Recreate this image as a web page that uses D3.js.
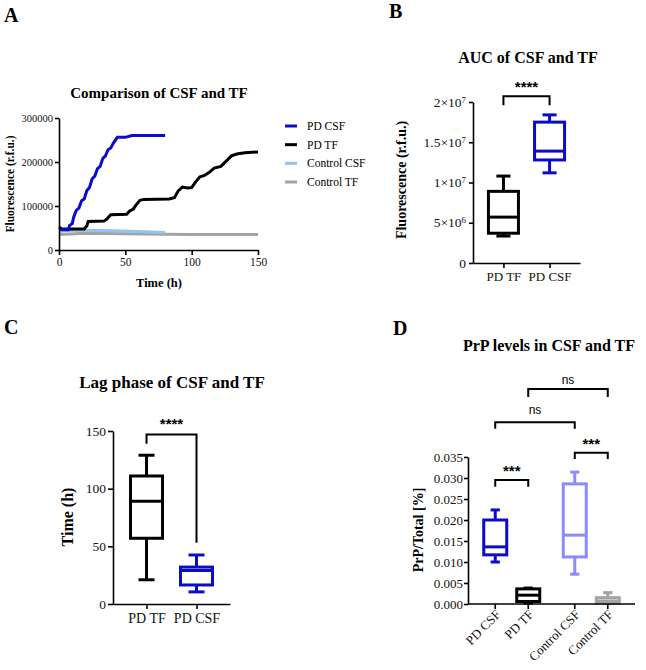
<!DOCTYPE html>
<html>
<head>
<meta charset="utf-8">
<script src="https://cdn.jsdelivr.net/npm/d3@7"></script>
<style>
  body { margin: 0; background: #fff; }
  svg { font-family: "Liberation Serif", "Times New Roman", serif; }
</style>
</head>
<body>
<div id="container"></div>
<script>
// ---- data ----
// A: fluorescence curves, [time h, r.f.u.]
let pdCsf = [[0,47000],[3,46000],[7,46000],[8,56000],[10,60000],[11,74000],[13,90000],[15,95000],[17,112000],[19,116000],[21,135000],[23,142000],[25,162000],[27,168000],[29,185000],[31,190000],[33,208000],[35,214000],[37,228000],[39,232000],[41,243000],[44,256000],[50,256000],[55,260000],[80,260000]];
let pdTf = [[0,52000],[2,48000],[19,48000],[21,55000],[22,65000],[34,66000],[36,70000],[39,80000],[51,81000],[53,88000],[56,93000],[58,102000],[61,113000],[64,115000],[83,116000],[87,119000],[90,135000],[93,143000],[97,141000],[100,142000],[103,155000],[106,166000],[110,170000],[113,176000],[117,186000],[122,190000],[126,202000],[130,214000],[134,218000],[140,221000],[150,223000]];
let controlCsf = [[0,42000],[5,44000],[20,45000],[40,44000],[60,42000],[80,40000]];
let controlTf = [[0,35000],[20,38000],[50,37000],[80,36000],[100,35000],[150,35000]];
let seriesNames = ["PD CSF", "PD TF", "Control CSF", "Control TF"];

// B: AUC box stats [min, q1, median, q3, max]
let aucCats = ["PD TF", "PD CSF"];
let aucStats = [[3.35e6, 3.7e6, 5.7e6, 8.9e6, 10.8e6], [11.2e6, 12.8e6, 13.9e6, 17.5e6, 18.4e6]];

// C: lag phase box stats
let lagCats = ["PD TF", "PD CSF"];
let lagStats = [[21, 57, 89, 111, 129], [10.5, 16.5, 29, 32, 42.5]];

// D: PrP / total box stats
let prpGroups = ["PD", "Control"];
let prpSubs = ["CSF", "TF"];
let prpStats = [
  [[0.0100, 0.0117, 0.0136, 0.0200, 0.0224], [0.0002, 0.0006, 0.0021, 0.0036, 0.0038]],
  [[0.0071, 0.0112, 0.0164, 0.0286, 0.0314], [0.0001, 0.0002, 0.0007, 0.0015, 0.0027]]
];

let w = 646, h = 670;
let svg = d3.select("#container").append("svg").attr("width", w).attr("height", h);

let blue = "#0b0bcc", lightBlue = "#8fc4f3", grey = "#a3a3a3", lavender = "#8b8bff";

function styleAxis(g, size) {
  g.selectAll("path, line").attr("stroke", "#000").attr("stroke-width", 1.6);
  g.selectAll("text").attr("font-size", size).attr("fill", "#111")
    .attr("font-family", "'Liberation Serif', serif");
}

function panelLetter(t, x, y) {
  svg.append("text").attr("x", x).attr("y", y).text(t)
    .attr("font-size", 20).attr("font-weight", "bold");
}

function title(t, x, y, size) {
  svg.append("text").attr("x", x).attr("y", y).attr("text-anchor", "middle")
    .attr("font-size", size).attr("font-weight", "bold").text(t);
}

function yLabel(t, x, y, size) {
  svg.append("text").attr("transform", "translate(" + x + "," + y + ") rotate(-90)")
    .attr("text-anchor", "middle").attr("font-size", size).attr("font-weight", "bold").text(t);
}

function drawBox(g, cx, s, y, color, bw, sw, capFrac) {
  let cap = bw * capFrac;
  g.append("line").attr("x1", cx).attr("x2", cx).attr("y1", y(s[0])).attr("y2", y(s[1]))
    .attr("stroke", color).attr("stroke-width", sw);
  g.append("line").attr("x1", cx).attr("x2", cx).attr("y1", y(s[3])).attr("y2", y(s[4]))
    .attr("stroke", color).attr("stroke-width", sw);
  [s[0], s[4]].forEach(v => {
    g.append("line").attr("x1", cx - cap / 2).attr("x2", cx + cap / 2).attr("y1", y(v)).attr("y2", y(v))
      .attr("stroke", color).attr("stroke-width", sw);
  });
  g.append("rect").attr("x", cx - bw / 2).attr("y", y(s[3])).attr("width", bw)
    .attr("height", y(s[1]) - y(s[3])).attr("fill", "#fff").attr("stroke", color).attr("stroke-width", sw);
  g.append("line").attr("x1", cx - bw / 2).attr("x2", cx + bw / 2).attr("y1", y(s[2])).attr("y2", y(s[2]))
    .attr("stroke", color).attr("stroke-width", sw);
}

function bracket(x1, x2, yTop, yL, yR, label, labelY, font, size, weight) {
  svg.append("path").attr("d", "M" + x1 + "," + yL + "V" + yTop + "H" + x2 + "V" + yR)
    .attr("fill", "none").attr("stroke", "#000").attr("stroke-width", 2);
  svg.append("text").attr("x", (x1 + x2) / 2).attr("y", labelY).attr("text-anchor", "middle")
    .attr("fill", "#000").attr("font-family", font).attr("font-size", size).attr("font-weight", weight).text(label);
}

// ================= A =================
panelLetter("A", 4, 22);
title("Comparison of CSF and TF", 159, 98, 15);

let xA = d3.scaleLinear().domain([0, 150]).range([59, 258]);
let yA = d3.scaleLinear().domain([0, 300000]).range([250, 118]);
let lineA = d3.line().x(d => xA(d[0])).y(d => yA(d[1]));
let seriesA = [pdCsf, pdTf, controlCsf, controlTf];
let colorsA = [blue, "#000", lightBlue, grey];

[3, 2, 1, 0].forEach(i => {
  svg.append("path").attr("d", lineA(seriesA[i])).attr("fill", "none")
    .attr("stroke", colorsA[i]).attr("stroke-width", 3);
});

let axA = svg.append("g").attr("transform", "translate(0,250)")
  .call(d3.axisBottom(xA).tickValues([0, 50, 100, 150]).tickSize(5).tickSizeOuter(0));
styleAxis(axA, 11.5);
let ayA = svg.append("g").attr("transform", "translate(59,0)")
  .call(d3.axisLeft(yA).tickValues([0, 100000, 200000, 300000]).tickFormat(d3.format("d")).tickSize(4).tickPadding(2).tickSizeOuter(0));
styleAxis(ayA, 10.5);
svg.append("text").attr("x", 159).attr("y", 287).attr("text-anchor", "middle")
  .attr("font-size", 12.5).attr("font-weight", "bold").text("Time (h)");
yLabel("Fluorescence (r.f.u.)", 14, 184, 11.5);

let legY = d3.scalePoint().domain(seriesNames).range([126, 182]);
seriesNames.forEach((n, i) => {
  svg.append("line").attr("x1", 285).attr("x2", 297).attr("y1", legY(n)).attr("y2", legY(n))
    .attr("stroke", colorsA[i]).attr("stroke-width", 3);
  svg.append("text").attr("x", 307).attr("y", legY(n)).attr("dy", "0.35em")
    .attr("font-size", 11.5).text(n);
});

// ================= B =================
panelLetter("B", 389, 18);
title("AUC of CSF and TF", 528, 63, 16);

let xB = d3.scalePoint().domain(aucCats).range([473, 580]).padding(0.66);
let yB = d3.scaleLinear().domain([0, 2e7]).range([263, 102]);
let gB = svg.append("g");
let colorsB = ["#000", blue];
aucCats.forEach((c, i) => drawBox(gB, xB(c), aucStats[i], yB, colorsB[i], 30, 3, 0.47));

let axB = svg.append("g").attr("transform", "translate(0,263)")
  .call(d3.axisBottom(xB).tickSize(5).tickSizeOuter(0).tickPadding(4));
styleAxis(axB, 13);
let ayB = svg.append("g").attr("transform", "translate(473,0)")
  .call(d3.axisLeft(yB).tickValues([0, 5e6, 1e7, 1.5e7, 2e7]).tickFormat("").tickSize(4).tickSizeOuter(0));
styleAxis(ayB, 12);
// tick labels with exponents
let bLabels = [["0", ""], ["5×10", "6"], ["1×10", "7"], ["1.5×10", "7"], ["2×10", "7"]];
[0, 5e6, 1e7, 1.5e7, 2e7].forEach((v, i) => {
  let t = svg.append("text").attr("x", 466).attr("y", yB(v)).attr("dy", "0.35em")
    .attr("text-anchor", "end").attr("font-size", 13.5).attr("fill", "#111");
  t.append("tspan").text(bLabels[i][0]);
  if (bLabels[i][1]) t.append("tspan").attr("dy", "-0.45em").attr("font-size", 9).text(bLabels[i][1]);
});
yLabel("Fluorescence (r.f.u.)", 406, 180, 14);
bracket(xB("PD TF"), xB("PD CSF"), yB(2.07e7), yB(1.96e7), yB(1.96e7), "****", 92,
  "'Liberation Sans', Arial, sans-serif", 15, "bold");

// ================= C =================
panelLetter("C", 4, 334);
title("Lag phase of CSF and TF", 172, 388, 17);

let xC = d3.scalePoint().domain(lagCats).range([113, 230]).padding(0.67);
let yC = d3.scaleLinear().domain([0, 150]).range([604, 431]);
let gC = svg.append("g");
lagCats.forEach((c, i) => drawBox(gC, xC(c), lagStats[i], yC, colorsB[i], 32, 3, 0.5));

let axC = svg.append("g").attr("transform", "translate(0,604)")
  .call(d3.axisBottom(xC).tickSize(5).tickSizeOuter(0).tickPadding(4));
styleAxis(axC, 14);
let ayC = svg.append("g").attr("transform", "translate(113,0)")
  .call(d3.axisLeft(yC).tickValues([0, 50, 100, 150]).tickSize(5).tickPadding(2).tickSizeOuter(0));
styleAxis(ayC, 13.5);
yLabel("Time (h)", 73, 517, 16);
bracket(xC("PD TF"), xC("PD CSF"), yC(147), yC(139), yC(53), "****", 429,
  "'Liberation Sans', Arial, sans-serif", 15, "bold");

// ================= D =================
panelLetter("D", 393, 335);
title("PrP levels in CSF and TF", 549, 351, 16);

let xGroup = d3.scalePoint().domain(prpGroups).range([468, 635]).padding(0.55);
let xSub = d3.scalePoint().domain(prpSubs).range([-16.5, 16.5]);
let yD = d3.scaleLinear().domain([0, 0.035]).range([604, 457]);
let gD = svg.append("g");
let colorsD = [[blue, "#000"], [lavender, grey]];
prpGroups.forEach((g, gi) => {
  prpSubs.forEach((s, si) => {
    drawBox(gD, xGroup(g) + xSub(s), prpStats[gi][si], yD, colorsD[gi][si], 23, 3, 0.4);
  });
});

let ayD = svg.append("g").attr("transform", "translate(468,0)")
  .call(d3.axisLeft(yD).tickValues(d3.range(0, 0.0351, 0.005)).tickFormat(d3.format(".3f")).tickSize(4).tickPadding(1).tickSizeOuter(0));
styleAxis(ayD, 13);
svg.append("line").attr("x1", 468).attr("x2", 635).attr("y1", 604).attr("y2", 604)
  .attr("stroke", "#000").attr("stroke-width", 1.6);
prpGroups.forEach(g => {
  prpSubs.forEach(s => {
    let x = xGroup(g) + xSub(s);
    svg.append("line").attr("x1", x).attr("x2", x).attr("y1", 604).attr("y2", 609)
      .attr("stroke", "#000").attr("stroke-width", 1.6);
    svg.append("text").attr("transform", "translate(" + (x + 3) + ",612) rotate(-45)")
      .attr("text-anchor", "end").attr("dy", "0.35em").attr("font-size", 13).attr("fill", "#111")
      .text(g + " " + s);
  });
});
yLabel("PrP/Total [%]", 423, 530, 14);

let xd = (g, s) => xGroup(g) + xSub(s);
let sans = "'Liberation Sans', Arial, sans-serif";
bracket(xd("PD", "CSF"), xd("PD", "TF"), yD(0.0295), yD(0.0279), yD(0.0279), "***", 476, sans, 15, "bold");
bracket(xd("Control", "CSF"), xd("Control", "TF"), yD(0.0360), yD(0.0345), yD(0.0345), "***", 449, sans, 15, "bold");
bracket(xd("PD", "CSF"), xd("Control", "CSF"), yD(0.0433), yD(0.0417), yD(0.0417), "ns", 414, sans, 12, "normal");
bracket(xd("PD", "TF"), xd("Control", "TF"), yD(0.0512), yD(0.0493), yD(0.0493), "ns", 384, sans, 12, "normal");
</script>
</body>
</html>
